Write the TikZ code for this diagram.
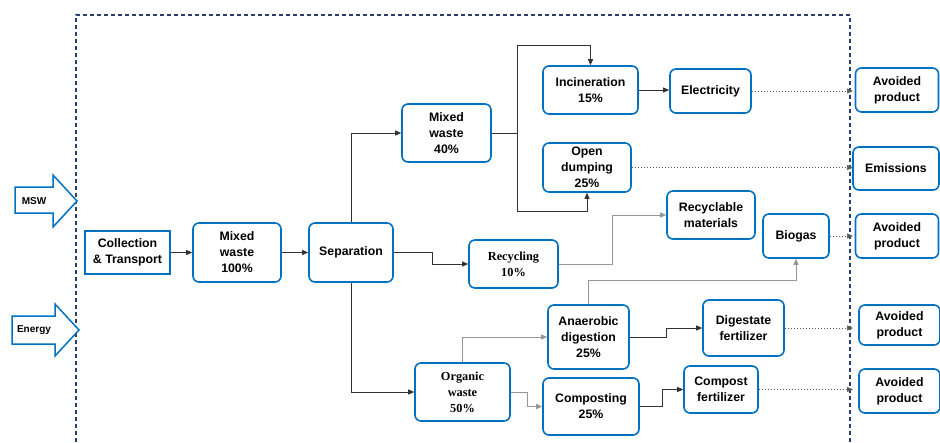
\documentclass[tikz,border=0pt]{standalone}
\usepackage{fontspec}
\setmainfont{Liberation Sans}
\newfontfamily\timesbf{Liberation Serif}
\usetikzlibrary{arrows.meta}
\definecolor{boxblue}{RGB}{0,112,192}
\definecolor{framenavy}{RGB}{40,62,110}
\definecolor{linedark}{RGB}{50,50,50}
\definecolor{linelight}{RGB}{150,150,150}
\definecolor{linedot}{RGB}{90,90,90}
\begin{document}
\begin{tikzpicture}[x=1pt,y=-1pt,
  box/.style={draw=boxblue, line width=1.6pt, rounded corners=6pt, fill=white,
    align=center, inner sep=0pt, font=\fontsize{12.3}{16}\selectfont\bfseries},
  sqbox/.style={box, rounded corners=0pt, line width=1.8pt},
  serifbox/.style={box, font=\fontsize{12.3}{16}\selectfont\timesbf\bfseries},
  conn/.style={draw=linedark, line width=0.8pt, -{Triangle[length=6pt,width=5pt]}},
  connlight/.style={conn, draw=linelight},
  dotconn/.style={draw=linedot, line width=0.7pt, dash pattern=on 1.5pt off 1.5pt,
    -{Triangle[length=6pt,width=5pt]}},
  inarrow/.style={draw=boxblue, line width=1.5pt, fill=white},
  intext/.style={font=\fontsize{10}{12}\selectfont\bfseries, inner sep=0pt}
]
\useasboundingbox (0,0) rectangle (940,442);

% system boundary
\draw[framenavy, line width=1.2pt, dash pattern=on 4pt off 3pt]
  (76,442) -- (76,15) -- (850,15) -- (850,442);

% inputs crossing the boundary
\draw[inarrow] (15,187) -- (53,187) -- (53,175) -- (77,201) -- (53,227) -- (53,213) -- (15,213) -- cycle;
\node[intext] (msw) at (34,201) {MSW};
\draw[inarrow] (12,316) -- (55,316) -- (55,304) -- (79,330) -- (55,356) -- (55,344) -- (12,344) -- cycle;
\node[intext] (energy) at (34,330) {Energy};

% process boxes
\node[sqbox, minimum width=85, minimum height=43] (collect) at (127.5,252.5) {Collection\\\& Transport};
\node[box, minimum width=88, minimum height=59] (mw100) at (237,252.5) {Mixed\\waste\\100\%};
\node[box, minimum width=84, minimum height=59] (sep) at (351,252.5) {Separation};
\node[box, minimum width=89, minimum height=58] (mw40) at (446.5,133) {Mixed\\waste\\40\%};
\node[box, minimum width=95, minimum height=48] (inc) at (590.5,90) {Incineration\\15\%};
\node[box, minimum width=88, minimum height=49] (dump) at (587,167.5) {Open\\dumping\\25\%};
\node[box, minimum width=81, minimum height=44] (elec) at (710.5,91) {Electricity};
\node[serifbox, minimum width=89, minimum height=48] (recyc) at (513.5,264) {Recycling\\10\%};
\node[box, minimum width=88, minimum height=48] (recmat) at (711,215) {Recyclable\\materials};
\node[box, minimum width=66, minimum height=44] (biogas) at (796,236) {Biogas};
\node[box, minimum width=81, minimum height=64] (anaer) at (588.5,337) {Anaerobic\\digestion\\25\%};
\node[serifbox, minimum width=95, minimum height=58] (organic) at (462.5,392) {Organic\\waste\\50\%};
\node[box, minimum width=96, minimum height=57] (compost) at (591,406.5) {Composting\\25\%};
\node[box, minimum width=81, minimum height=56] (digest) at (743.5,328) {Digestate\\fertilizer};
\node[box, minimum width=74, minimum height=47] (compfert) at (721,389.5) {Compost\\fertilizer};

% outputs outside the boundary
\node[box, minimum width=83, minimum height=44] (av1) at (897,90) {Avoided\\product};
\node[box, minimum width=86, minimum height=43] (emis) at (896,168.5) {Emissions};
\node[box, minimum width=83, minimum height=44] (av2) at (897,236) {Avoided\\product};
\node[box, minimum width=81, minimum height=40] (av3) at (899.5,325) {Avoided\\product};
\node[box, minimum width=81, minimum height=44] (av4) at (899.5,391) {Avoided\\product};

% ends of the flows at the boundary
\coordinate (b1) at (853,91);
\coordinate (b2) at (853,167.5);
\coordinate (b3) at (853,236);
\coordinate (b4) at (853,328);
\coordinate (b5) at (853,389.5);
\coordinate (split) at (517,133);

% material flows
\draw[conn] (collect.east) -- (mw100.west);
\draw[conn] (mw100.east) -- (sep.west);
\draw[conn] (sep.north) |- (mw40.west);
\draw[conn] (sep.east) -- ++(39,0) |- (recyc.west);
\draw[conn] (sep.south) |- (organic.west);
\draw[linedark, line width=0.8pt] (mw40.east) -- (split);
\draw[conn] (split) |- ([yshift=20pt]inc.north) -- (inc.north);
\draw[conn] (split) |- ([yshift=-19pt]dump.south) -- (dump.south);
\draw[conn] (inc.east) -- (inc.east -| elec.west);
\draw[connlight] (recyc.east) -- ++(54,0) |- (recmat.west);
\draw[connlight] (organic.north) |- (anaer.west);
\draw[connlight] (organic.east) -- ++(17,0) |- (compost.west);
\draw[connlight] (anaer.north) -- ++(0,-24) -| (biogas.south);
\draw[conn] (anaer.east) -- ++(37,0) |- (digest.west);
\draw[conn] (compost.east) -- ++(23,0) |- (compfert.west);

% flows leaving the boundary
\draw[dotconn] (elec.east) -- (b1);
\draw[dotconn] (dump.east) -- (b2);
\draw[dotconn] (biogas.east) -- (b3);
\draw[dotconn] (digest.east) -- (b4);
\draw[dotconn] (compfert.east) -- (b5);
\end{tikzpicture}
\end{document}
